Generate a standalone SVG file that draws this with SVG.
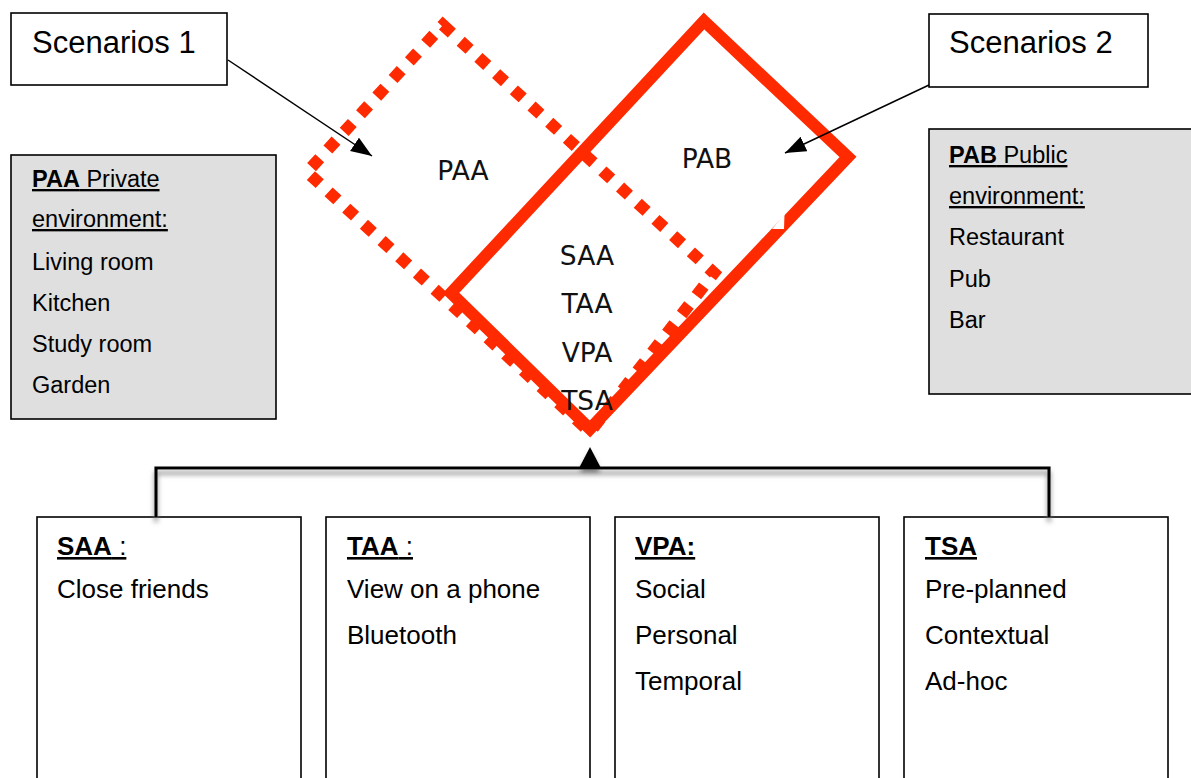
<svg xmlns="http://www.w3.org/2000/svg" width="1191" height="778" viewBox="0 0 1191 778">
  <style>
    .lbl { font-family: "Liberation Sans", Arial, sans-serif; fill: #000; }
    .big { font-size: 31px; }
    .env { font-size: 23.5px; }
    .item { font-size: 26px; }
    .zone { font-family: "DejaVu Sans", Verdana, sans-serif; font-size: 26.5px; fill: #111; text-anchor: middle; }
    .u { text-decoration: underline; }
    .b { font-weight: bold; }
    .box { fill: #fff; stroke: #000; stroke-width: 1.6; }
    .grey { fill: #dfdfdf; stroke: #000; stroke-width: 1.6; }
    .pointer { fill: none; stroke: #000; stroke-width: 1.5; }
    .red { fill: none; stroke: #ff2a00; stroke-width: 12; }
    .dots { fill: none; stroke: #ff2a00; stroke-width: 12; stroke-dasharray: 12 12; }
  </style>
  <defs>
    <marker id="tip" markerUnits="userSpaceOnUse" markerWidth="22" markerHeight="18" refX="21" refY="8" orient="auto">
      <path d="M0,0 L21,8 L0,16 z" fill="#000"/>
    </marker>
    <filter id="shadow" x="-5%" y="-50%" width="110%" height="250%">
      <feDropShadow dx="0" dy="5" stdDeviation="2.5" flood-color="#707070" flood-opacity="0.85"/>
    </filter>
  </defs>

  <rect width="1191" height="778" fill="#fff"/>

  <!-- scenario areas -->
  <g id="scenario-1-area">
    <path class="dots" d="M443,25 L714,273 L590,432 L307,172 Z"/>
  </g>
  <g id="scenario-2-area">
    <path class="red" d="M704,21 L848,157 L590,429 L451,293 Z" stroke-linejoin="miter"/>
    <path d="M784.5,214 L784,229 L772,229 Z" fill="#fff"/>
  </g>

  <g id="zone-labels">
    <text class="zone" x="463" y="180">PAA</text>
    <text class="zone" x="707" y="168">PAB</text>
    <text class="zone" x="587" y="265">SAA</text>
    <text class="zone" x="587" y="313">TAA</text>
    <text class="zone" x="587" y="362">VPA</text>
    <text class="zone" x="587" y="410">TSA</text>
  </g>

  <!-- callouts -->
  <g id="scenarios-1">
    <rect class="box" x="11" y="13" width="216" height="72"/>
    <text class="lbl big" x="32" y="53">Scenarios 1</text>
  </g>
  <g id="scenarios-2">
    <rect class="box" x="929" y="14" width="219" height="73"/>
    <text class="lbl big" x="949" y="53">Scenarios 2</text>
  </g>

  <g id="paa-private">
    <rect class="grey" x="11" y="155" width="265" height="264"/>
    <text class="lbl env u" x="32" y="187"><tspan class="b">PAA</tspan> Private</text>
    <text class="lbl env u" x="32" y="227">environment:</text>
    <text class="lbl env" x="32" y="270">Living room</text>
    <text class="lbl env" x="32" y="311">Kitchen</text>
    <text class="lbl env" x="32" y="352">Study room</text>
    <text class="lbl env" x="32" y="393">Garden</text>
  </g>

  <g id="pab-public">
    <rect class="grey" x="929" y="129" width="280" height="265"/>
    <text class="lbl env u" x="949" y="163"><tspan class="b">PAB</tspan> Public</text>
    <text class="lbl env u" x="949" y="204">environment:</text>
    <text class="lbl env" x="949" y="245">Restaurant</text>
    <text class="lbl env" x="949" y="287">Pub</text>
    <text class="lbl env" x="949" y="328">Bar</text>
  </g>

  <!-- property boxes -->
  <g id="saa">
    <rect class="box" x="37" y="517" width="264" height="280"/>
    <text class="lbl item u" x="57" y="555"><tspan class="b">SAA</tspan> :</text>
    <text class="lbl item" x="57" y="598">Close friends</text>
  </g>
  <g id="taa">
    <rect class="box" x="326" y="517" width="264" height="280"/>
    <text class="lbl item u" x="347" y="555"><tspan class="b">TAA</tspan> :</text>
    <text class="lbl item" x="347" y="598">View on a phone</text>
    <text class="lbl item" x="347" y="644">Bluetooth</text>
  </g>
  <g id="vpa">
    <rect class="box" x="615" y="517" width="264" height="280"/>
    <text class="lbl item u b" x="635" y="555">VPA:</text>
    <text class="lbl item" x="635" y="598">Social</text>
    <text class="lbl item" x="635" y="644">Personal</text>
    <text class="lbl item" x="635" y="690">Temporal</text>
  </g>
  <g id="tsa">
    <rect class="box" x="904" y="517" width="264" height="280"/>
    <text class="lbl item u b" x="925" y="555">TSA</text>
    <text class="lbl item" x="925" y="598">Pre-planned</text>
    <text class="lbl item" x="925" y="644">Contextual</text>
    <text class="lbl item" x="925" y="690">Ad-hoc</text>
  </g>

  <!-- connectors -->
  <g id="connectors">
    <line class="pointer" x1="228" y1="60" x2="372" y2="156" marker-end="url(#tip)"/>
    <line class="pointer" x1="929" y1="85" x2="785" y2="153" marker-end="url(#tip)"/>
    <g filter="url(#shadow)">
      <path d="M156,517 L156,468 L1049,468 L1049,517" fill="none" stroke="#000" stroke-width="3.2"/>
      <path d="M590,447 L601.5,469 L578.5,469 Z" fill="#000"/>
    </g>
  </g>
</svg>
